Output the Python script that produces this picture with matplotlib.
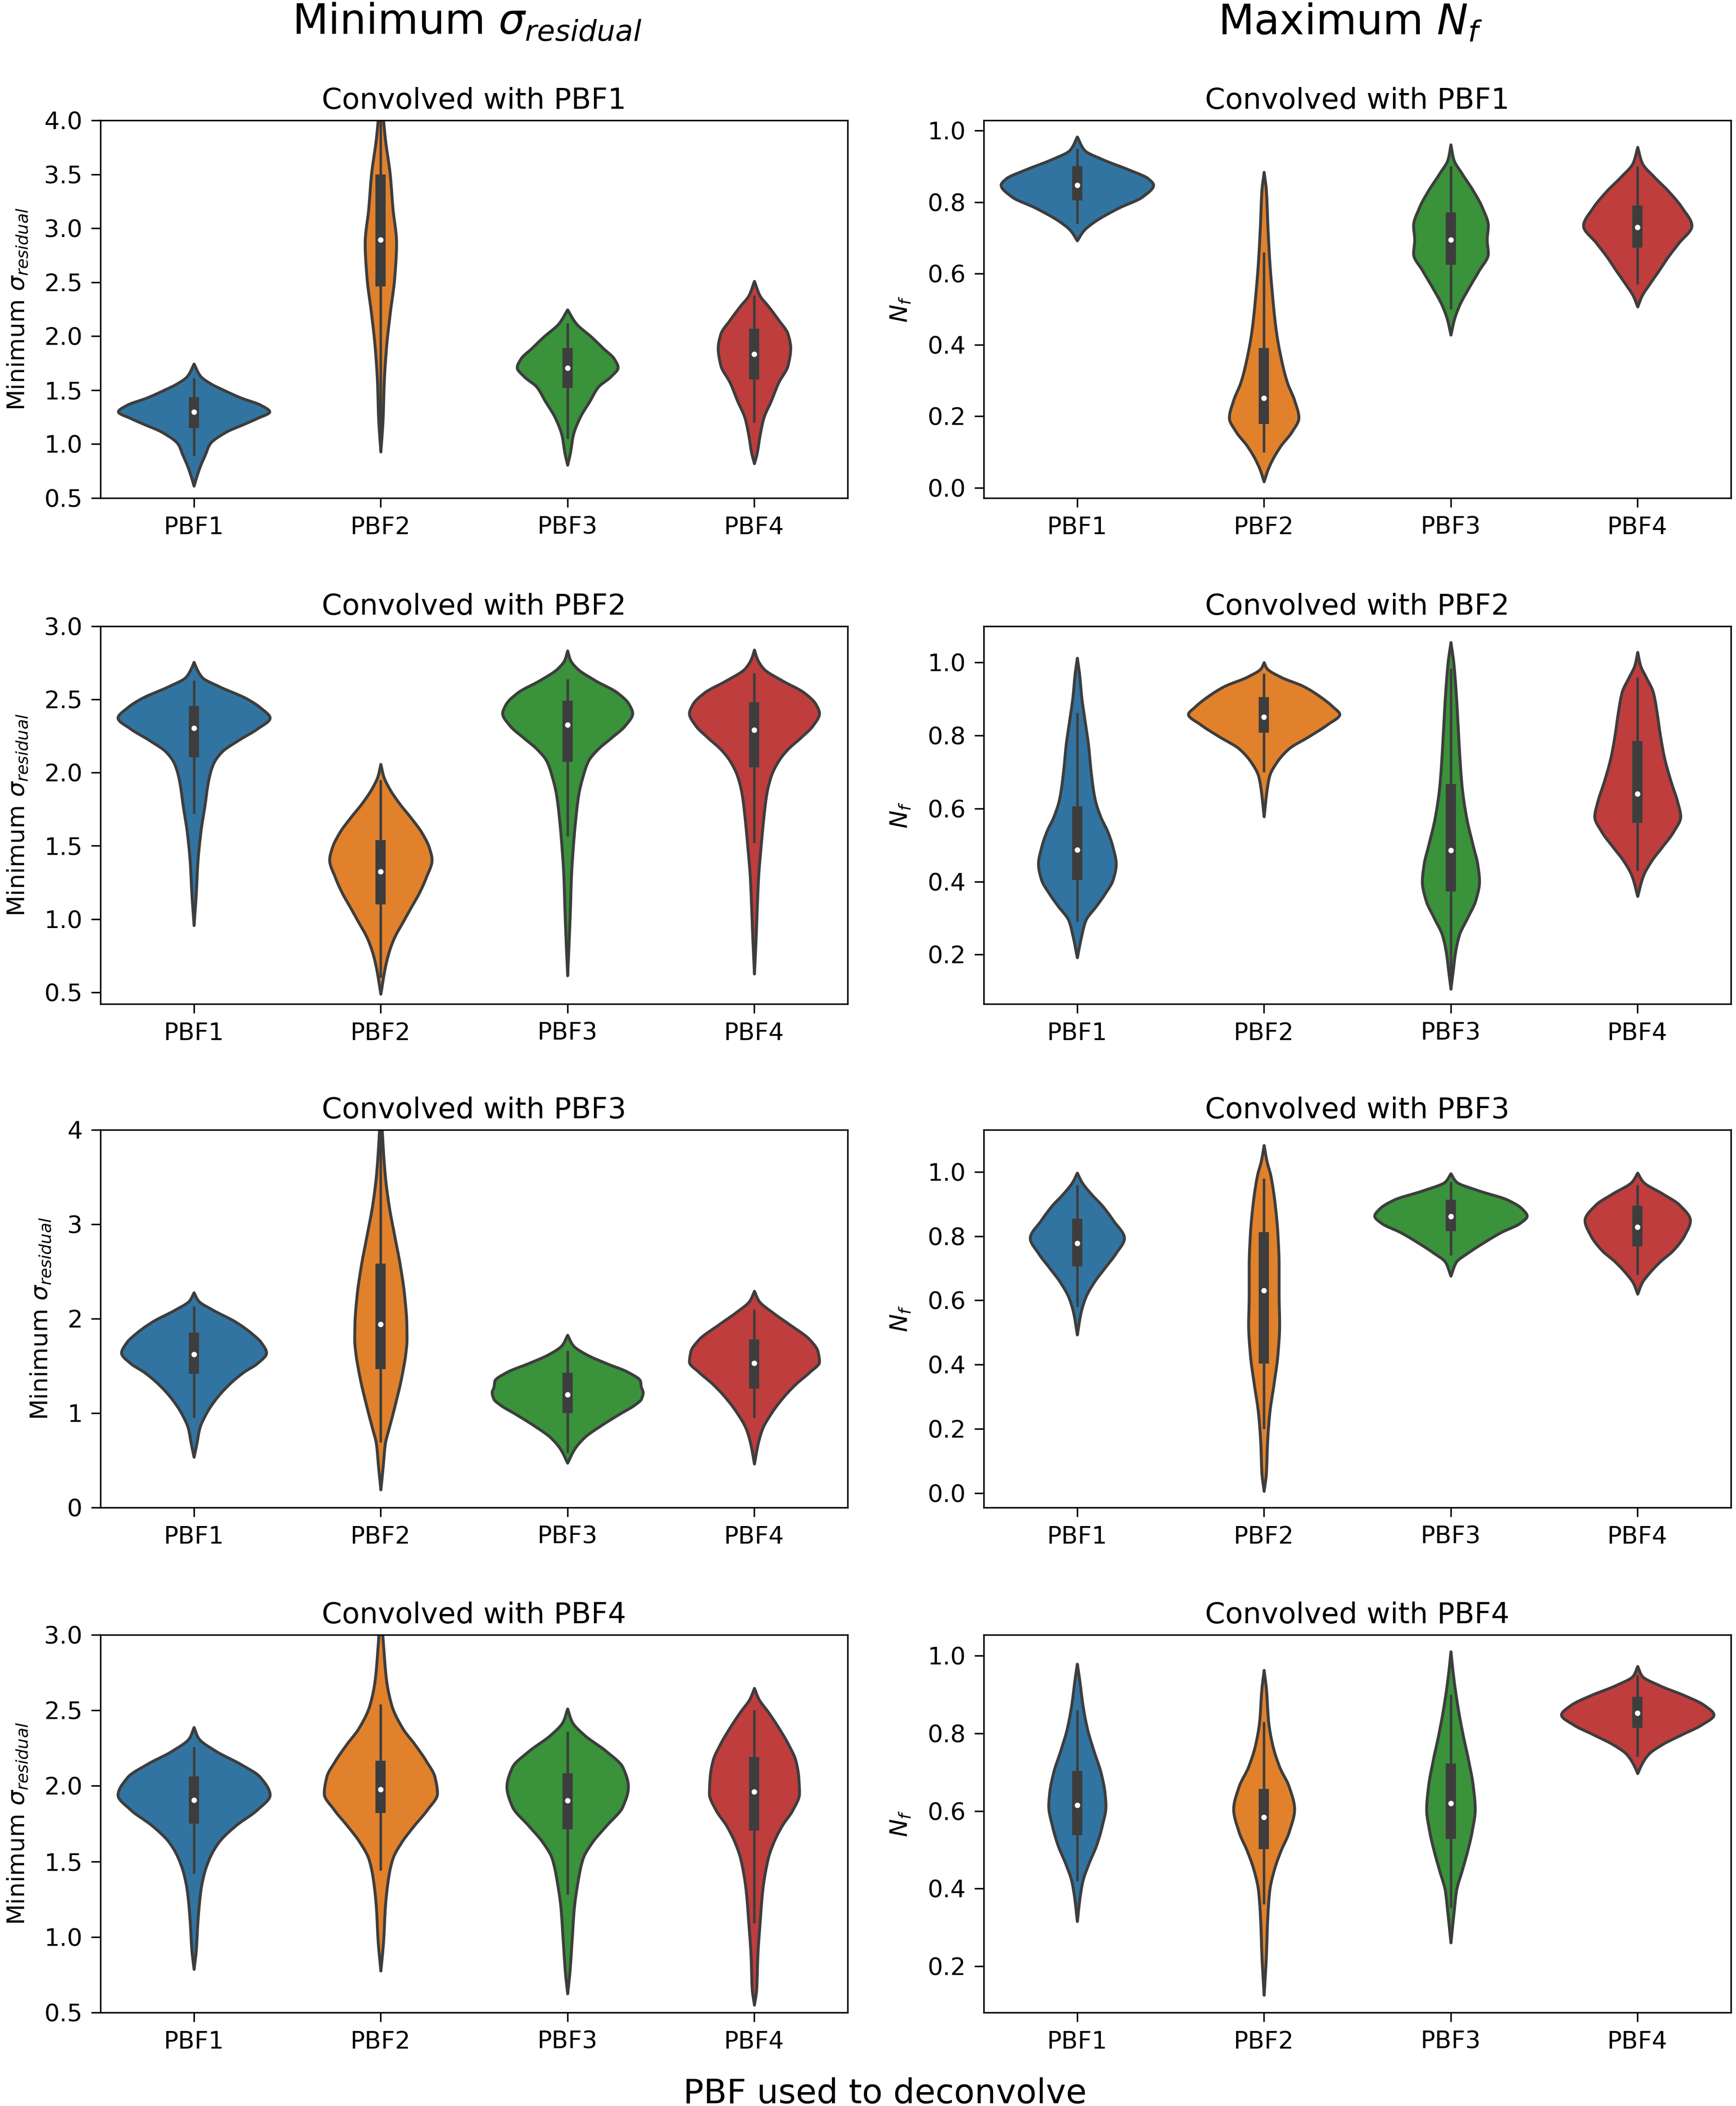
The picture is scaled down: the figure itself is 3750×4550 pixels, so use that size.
import numpy as np
import matplotlib
matplotlib.use("Agg")
import matplotlib.pyplot as plt

# ---------------- data ----------------
CATEGORIES = ["PBF1", "PBF2", "PBF3", "PBF4"]
PANEL_TITLES = ["Convolved with PBF1", "Convolved with PBF2",
                "Convolved with PBF3", "Convolved with PBF4"]
COL_TITLES = ["Minimum $\\sigma_{residual}$", "Maximum $N_f$"]
YLABELS = ["Minimum $\\sigma_{residual}$", "$N_f$"]
XLABEL = "PBF used to deconvolve"
COLORS = ["#3274a1", "#e1812c", "#3a923a", "#c03d3e"]
GRAY = "#3d3d3d"

# y-limits, ticks and tick labels per panel (left column: sigma, right column: N_f)
SIG_YLIMS = [(0.5, 4.0), (0.42, 3.0), (0.0, 4.0), (0.5, 3.0)]
SIG_YTICKS = [[0.5, 1.0, 1.5, 2.0, 2.5, 3.0, 3.5, 4.0],
              [0.5, 1.0, 1.5, 2.0, 2.5, 3.0],
              [0, 1, 2, 3, 4],
              [0.5, 1.0, 1.5, 2.0, 2.5, 3.0]]
SIG_YTICKLABELS = [["0.5", "1.0", "1.5", "2.0", "2.5", "3.0", "3.5", "4.0"],
                   ["0.5", "1.0", "1.5", "2.0", "2.5", "3.0"],
                   ["0", "1", "2", "3", "4"],
                   ["0.5", "1.0", "1.5", "2.0", "2.5", "3.0"]]
NF_YLIMS = [(-0.029, 1.029), (0.065, 1.099), (-0.045, 1.131), (0.081, 1.054)]
NF_YTICKS = [[0.0, 0.2, 0.4, 0.6, 0.8, 1.0],
             [0.2, 0.4, 0.6, 0.8, 1.0],
             [0.0, 0.2, 0.4, 0.6, 0.8, 1.0],
             [0.2, 0.4, 0.6, 0.8, 1.0]]
NF_YTICKLABELS = [["0.0", "0.2", "0.4", "0.6", "0.8", "1.0"],
                  ["0.2", "0.4", "0.6", "0.8", "1.0"],
                  ["0.0", "0.2", "0.4", "0.6", "0.8", "1.0"],
                  ["0.2", "0.4", "0.6", "0.8", "1.0"]]

# Violin outlines: [value, half-width] knots (bottom tip -> top tip)
# Box stats per violin: [whisker low, q1, median, q3, whisker high]

# ---- Minimum sigma_residual, convolved with PBF1 ----
sig1_outline = [
    [[0.612, 0], [0.70, 0.015], [0.80, 0.035], [0.90, 0.06], [1.0, 0.085], [1.11, 0.17],
     [1.19, 0.275], [1.24, 0.34], [1.30, 0.405], [1.36, 0.36], [1.43, 0.25], [1.50, 0.16],
     [1.56, 0.09], [1.63, 0.035], [1.744, 0]],
    [[0.929, 0], [1.24, 0.012], [1.57, 0.018], [1.89, 0.03], [2.21, 0.05], [2.54, 0.074],
     [2.86, 0.084], [3.18, 0.065], [3.5, 0.05], [3.83, 0.024], [4.3, 0]],
    [[0.806, 0], [0.92, 0.015], [1.08, 0.03], [1.24, 0.065], [1.40, 0.12], [1.53, 0.165],
     [1.63, 0.235], [1.71, 0.27], [1.79, 0.25], [1.89, 0.19], [1.99, 0.13], [2.12, 0.045],
     [2.246, 0]],
    [[0.82, 0], [0.92, 0.015], [1.08, 0.03], [1.24, 0.05], [1.40, 0.09], [1.57, 0.13],
     [1.73, 0.18], [1.89, 0.194], [2.02, 0.18], [2.15, 0.13], [2.28, 0.074], [2.375, 0.03],
     [2.51, 0]],
]
sig1_box = [[0.89, 1.146, 1.298, 1.437, 1.61], [0.95, 2.46, 2.893, 3.5, 4.3],
            [1.05, 1.52, 1.705, 1.89, 2.12], [1.2, 1.60, 1.832, 2.07, 2.38]]

# ---- Minimum sigma_residual, convolved with PBF2 ----
sig2_outline = [
    [[0.957, 0], [1.18, 0.012], [1.38, 0.02], [1.59, 0.036], [1.79, 0.06], [1.895, 0.071],
     [1.976, 0.083], [2.06, 0.104], [2.14, 0.148], [2.22, 0.237], [2.30, 0.34], [2.374, 0.407],
     [2.445, 0.355], [2.507, 0.28], [2.59, 0.133], [2.65, 0.045], [2.71, 0.015], [2.755, 0]],
    [[0.488, 0], [0.67, 0.024], [0.773, 0.044], [0.875, 0.074], [0.977, 0.118], [1.08, 0.163],
     [1.18, 0.207], [1.283, 0.243], [1.405, 0.274], [1.486, 0.26], [1.59, 0.22], [1.69, 0.163],
     [1.79, 0.10], [1.895, 0.045], [1.976, 0.015], [2.058, 0]],
    [[0.614, 0], [0.875, 0.009], [1.08, 0.015], [1.283, 0.02], [1.487, 0.03], [1.69, 0.044],
     [1.854, 0.06], [1.976, 0.083], [2.08, 0.112], [2.16, 0.163], [2.24, 0.237], [2.323, 0.31],
     [2.405, 0.348], [2.466, 0.33], [2.547, 0.266], [2.63, 0.148], [2.71, 0.053], [2.77, 0.015],
     [2.833, 0]],
    [[0.626, 0], [0.875, 0.009], [1.08, 0.015], [1.283, 0.022], [1.487, 0.035], [1.69, 0.05],
     [1.854, 0.066], [1.976, 0.09], [2.08, 0.13], [2.16, 0.18], [2.24, 0.25], [2.323, 0.315],
     [2.405, 0.348], [2.466, 0.33], [2.547, 0.266], [2.63, 0.148], [2.71, 0.05], [2.78, 0.015],
     [2.839, 0]],
]
sig2_box = [[1.72, 2.105, 2.303, 2.456, 2.63], [0.6, 1.10, 1.324, 1.538, 1.95],
            [1.564, 2.074, 2.327, 2.49, 2.64], [1.52, 2.037, 2.292, 2.48, 2.68]]

# ---- Minimum sigma_residual, convolved with PBF3 ----
sig3_outline = [
    [[0.535, 0], [0.677, 0.015], [0.835, 0.03], [0.992, 0.065], [1.15, 0.118], [1.307, 0.19],
     [1.433, 0.266], [1.528, 0.34], [1.638, 0.388], [1.748, 0.36], [1.843, 0.31], [1.97, 0.22],
     [2.094, 0.10], [2.19, 0.024], [2.277, 0]],
    [[0.189, 0], [0.425, 0.012], [0.677, 0.024], [0.835, 0.044], [0.992, 0.065], [1.15, 0.085],
     [1.307, 0.104], [1.465, 0.12], [1.622, 0.133], [1.78, 0.14], [1.937, 0.139], [2.25, 0.127],
     [2.567, 0.104], [2.88, 0.074], [3.2, 0.044], [3.51, 0.024], [3.83, 0.012], [4.3, 0]],
    [[0.472, 0], [0.614, 0.036], [0.74, 0.09], [0.866, 0.178], [0.992, 0.28], [1.087, 0.36],
     [1.15, 0.395], [1.22, 0.404], [1.28, 0.394], [1.339, 0.39], [1.433, 0.325], [1.528, 0.207],
     [1.622, 0.10], [1.717, 0.03], [1.827, 0]],
    [[0.463, 0], [0.677, 0.02], [0.835, 0.044], [0.992, 0.089], [1.15, 0.148], [1.307, 0.222],
     [1.433, 0.296], [1.543, 0.348], [1.654, 0.34], [1.78, 0.296], [1.937, 0.19], [2.063, 0.10],
     [2.19, 0.024], [2.293, 0]],
]
sig3_box = [[0.95, 1.417, 1.622, 1.852, 2.13], [0.693, 1.465, 1.943, 2.583, 4.3],
            [0.58, 0.998, 1.197, 1.427, 1.66], [0.95, 1.26, 1.528, 1.78, 2.1]]

# ---- Minimum sigma_residual, convolved with PBF4 ----
sig4_outline = [
    [[0.787, 0], [0.916, 0.012], [1.09, 0.02], [1.304, 0.036], [1.412, 0.053], [1.52, 0.083],
     [1.627, 0.133], [1.735, 0.222], [1.843, 0.34], [1.94, 0.407], [2.058, 0.355], [2.144, 0.25],
     [2.23, 0.118], [2.317, 0.024], [2.388, 0]],
    [[0.776, 0], [0.98, 0.015], [1.196, 0.024], [1.412, 0.044], [1.52, 0.065], [1.627, 0.112],
     [1.735, 0.178], [1.843, 0.25], [1.95, 0.303], [2.058, 0.29], [2.166, 0.243], [2.274, 0.183],
     [2.38, 0.118], [2.532, 0.059], [2.705, 0.03], [2.92, 0.015], [3.2, 0]],
    [[0.625, 0], [0.765, 0.012], [0.98, 0.024], [1.196, 0.036], [1.347, 0.053], [1.52, 0.083],
     [1.627, 0.133], [1.735, 0.207], [1.864, 0.296], [1.994, 0.325], [2.123, 0.296],
     [2.23, 0.207], [2.338, 0.089], [2.425, 0.024], [2.511, 0]],
    [[0.55, 0], [0.657, 0.012], [0.874, 0.018], [1.09, 0.03], [1.304, 0.044], [1.52, 0.074],
     [1.627, 0.104], [1.735, 0.148], [1.843, 0.207], [1.95, 0.241], [2.058, 0.237],
     [2.166, 0.222], [2.274, 0.183], [2.38, 0.133], [2.49, 0.074], [2.575, 0.024], [2.647, 0]],
]
sig4_box = [[1.42, 1.75, 1.907, 2.063, 2.26], [1.44, 1.821, 1.976, 2.166, 2.54],
            [1.28, 1.713, 1.903, 2.084, 2.36], [1.09, 1.703, 1.961, 2.192, 2.5]]

# ---- Maximum N_f, convolved with PBF1 ----
nf1_outline = [
    [[0.692, 0], [0.72, 0.035], [0.744, 0.09], [0.783, 0.22], [0.815, 0.35], [0.848, 0.408],
     [0.866, 0.38], [0.89, 0.28], [0.92, 0.134], [0.945, 0.04], [0.983, 0]],
    [[0.017, 0], [0.049, 0.02], [0.078, 0.045], [0.117, 0.09], [0.157, 0.15], [0.196, 0.186],
     [0.245, 0.163], [0.294, 0.125], [0.342, 0.10], [0.44, 0.065], [0.538, 0.045],
     [0.636, 0.03], [0.734, 0.02], [0.832, 0.012], [0.884, 0]],
    [[0.428, 0], [0.47, 0.018], [0.509, 0.045], [0.558, 0.095], [0.607, 0.15], [0.656, 0.2],
     [0.695, 0.194], [0.734, 0.2], [0.783, 0.17], [0.832, 0.12], [0.88, 0.06], [0.92, 0.015],
     [0.961, 0]],
    [[0.507, 0], [0.538, 0.024], [0.567, 0.06], [0.607, 0.113], [0.646, 0.163], [0.685, 0.22],
     [0.734, 0.29], [0.783, 0.24], [0.832, 0.163], [0.87, 0.09], [0.91, 0.024], [0.954, 0]],
]
nf1_box = [[0.74, 0.805, 0.848, 0.90, 0.95], [0.10, 0.178, 0.251, 0.391, 0.66],
           [0.50, 0.624, 0.695, 0.771, 0.90], [0.57, 0.672, 0.729, 0.79, 0.90]]

# ---- Maximum N_f, convolved with PBF2 ----
nf2_outline = [
    [[0.192, 0], [0.253, 0.024], [0.293, 0.045], [0.334, 0.104], [0.366, 0.148], [0.407, 0.193],
     [0.448, 0.208], [0.496, 0.19], [0.537, 0.163], [0.578, 0.125], [0.626, 0.095], [0.70, 0.074],
     [0.773, 0.06], [0.838, 0.042], [0.903, 0.024], [0.968, 0.012], [1.012, 0]],
    [[0.578, 0], [0.659, 0.018], [0.69, 0.03], [0.724, 0.065], [0.764, 0.134], [0.797, 0.24],
     [0.83, 0.34], [0.858, 0.405], [0.878, 0.37], [0.903, 0.31], [0.935, 0.21], [0.96, 0.09],
     [0.984, 0.015], [1.0, 0]],
    [[0.106, 0], [0.155, 0.012], [0.204, 0.024], [0.253, 0.045], [0.301, 0.09], [0.35, 0.134],
     [0.40, 0.153], [0.449, 0.143], [0.497, 0.12], [0.578, 0.083], [0.659, 0.06], [0.74, 0.048],
     [0.821, 0.039], [0.903, 0.03], [1.0, 0.015], [1.055, 0]],
    [[0.36, 0], [0.415, 0.03], [0.456, 0.074], [0.496, 0.134], [0.537, 0.193], [0.578, 0.23],
     [0.618, 0.214], [0.675, 0.178], [0.74, 0.143], [0.805, 0.12], [0.862, 0.104],
     [0.919, 0.083], [0.96, 0.045], [0.992, 0.015], [1.028, 0]],
]
nf2_box = [[0.29, 0.405, 0.487, 0.606, 0.862], [0.70, 0.807, 0.851, 0.905, 0.97],
           [0.12, 0.373, 0.486, 0.667, 0.984], [0.43, 0.561, 0.64, 0.785, 0.96]]

# ---- Maximum N_f, convolved with PBF3 ----
nf3_outline = [
    [[0.493, 0], [0.562, 0.02], [0.609, 0.045], [0.655, 0.089], [0.701, 0.148], [0.747, 0.208],
     [0.794, 0.252], [0.849, 0.193], [0.895, 0.134], [0.932, 0.074], [0.969, 0.024], [0.997, 0]],
    [[0.006, 0], [0.063, 0.012], [0.155, 0.018], [0.248, 0.03], [0.34, 0.053], [0.433, 0.074],
     [0.525, 0.083], [0.618, 0.08], [0.71, 0.08], [0.803, 0.074], [0.895, 0.06], [0.988, 0.036],
     [1.034, 0.015], [1.083, 0]],
    [[0.676, 0], [0.72, 0.03], [0.747, 0.09], [0.775, 0.163], [0.812, 0.27], [0.84, 0.37],
     [0.863, 0.408], [0.886, 0.38], [0.914, 0.30], [0.942, 0.148], [0.969, 0.03], [0.995, 0]],
    [[0.62, 0], [0.655, 0.024], [0.683, 0.06], [0.72, 0.12], [0.757, 0.193], [0.803, 0.252],
     [0.849, 0.282], [0.898, 0.223], [0.932, 0.134], [0.969, 0.03], [0.997, 0]],
]
nf3_box = [[0.58, 0.706, 0.778, 0.854, 0.96], [0.20, 0.403, 0.631, 0.812, 0.98],
           [0.74, 0.815, 0.861, 0.914, 0.97], [0.68, 0.768, 0.829, 0.895, 0.96]]

# ---- Maximum N_f, convolved with PBF4 ----
nf4_outline = [
    [[0.316, 0], [0.379, 0.015], [0.42, 0.03], [0.462, 0.06], [0.513, 0.104], [0.563, 0.134],
     [0.613, 0.153], [0.647, 0.148], [0.697, 0.128], [0.755, 0.089], [0.814, 0.053],
     [0.873, 0.03], [0.94, 0.012], [0.979, 0]],
    [[0.126, 0], [0.228, 0.012], [0.312, 0.018], [0.395, 0.03], [0.446, 0.053], [0.496, 0.089],
     [0.546, 0.134], [0.605, 0.163], [0.663, 0.134], [0.714, 0.083], [0.772, 0.045],
     [0.831, 0.024], [0.915, 0.012], [0.963, 0]],
    [[0.261, 0], [0.345, 0.018], [0.395, 0.03], [0.446, 0.06], [0.496, 0.089], [0.546, 0.113],
     [0.605, 0.13], [0.663, 0.12], [0.73, 0.095], [0.797, 0.065], [0.873, 0.036],
     [0.956, 0.012], [1.011, 0]],
    [[0.697, 0], [0.722, 0.024], [0.747, 0.06], [0.772, 0.134], [0.797, 0.237], [0.822, 0.342],
     [0.848, 0.408], [0.873, 0.356], [0.898, 0.25], [0.923, 0.12], [0.948, 0.024], [0.973, 0]],
]
nf4_box = [[0.42, 0.538, 0.615, 0.703, 0.86], [0.36, 0.502, 0.584, 0.657, 0.83],
           [0.35, 0.528, 0.62, 0.722, 0.90], [0.74, 0.814, 0.852, 0.894, 0.95]]

SIG_OUTLINES = [sig1_outline, sig2_outline, sig3_outline, sig4_outline]
SIG_BOXES = [sig1_box, sig2_box, sig3_box, sig4_box]
NF_OUTLINES = [nf1_outline, nf2_outline, nf3_outline, nf4_outline]
NF_BOXES = [nf1_box, nf2_box, nf3_box, nf4_box]


# ---------------- drawing helpers ----------------
def smooth_outline(x, y, xn):
    """Monotone cubic (PCHIP) curve through the read knots, for a smooth outline."""
    x = np.asarray(x, float)
    y = np.asarray(y, float)
    h = np.diff(x)
    d = np.diff(y) / h
    m = np.zeros_like(y)
    for k in range(1, len(x) - 1):
        if d[k - 1] * d[k] > 0:
            w1 = 2 * h[k] + h[k - 1]
            w2 = h[k] + 2 * h[k - 1]
            m[k] = (w1 + w2) / (w1 / d[k - 1] + w2 / d[k])
    m[0] = d[0]
    m[-1] = d[-1]
    idx = np.clip(np.searchsorted(x, xn) - 1, 0, len(h) - 1)
    t = (xn - x[idx]) / h[idx]
    h00 = 2 * t**3 - 3 * t**2 + 1
    h10 = t**3 - 2 * t**2 + t
    h01 = -2 * t**3 + 3 * t**2
    h11 = t**3 - t**2
    out = h00 * y[idx] + h10 * h[idx] * m[idx] + h01 * y[idx + 1] + h11 * h[idx] * m[idx + 1]
    return np.clip(out, 0, None)


def draw_panel(ax, outlines, boxes):
    for i, (kn, bx) in enumerate(zip(outlines, boxes)):
        ky = np.array([k[0] for k in kn])
        kw = np.array([k[1] for k in kn])
        yy = np.linspace(ky[0], ky[-1], 500)
        ww = smooth_outline(ky, kw, yy)
        stats = [dict(coords=yy, vals=ww, mean=bx[2], median=bx[2],
                      min=ky[0], max=ky[-1], quantiles=[])]
        parts = ax.violin(stats, positions=[i], widths=[2 * ww.max()],
                          showextrema=False, showmeans=False, showmedians=False)
        for b in parts["bodies"]:
            b.set_facecolor(COLORS[i])
            b.set_edgecolor(GRAY)
            b.set_linewidth(1.5)
            b.set_alpha(1)
        wlo, q1, med, q3, whi = bx
        ax.plot([i, i], [wlo, whi], color=GRAY, lw=1.3, solid_capstyle="butt", zorder=2)
        ax.plot([i, i], [q1, q3], color=GRAY, lw=5.3, solid_capstyle="butt", zorder=2)
        ax.scatter([i], [med], s=14, color="white", edgecolor=GRAY, linewidth=0.9, zorder=3)


def style_axes(ax, ylim, yticks, yticklabels, title, ylabel):
    ax.set_xlim(-0.5, 3.5)
    ax.set_xticks(range(len(CATEGORIES)))
    ax.set_xticklabels(CATEGORIES)
    ax.set_ylim(*ylim)
    ax.set_yticks(yticks)
    ax.set_yticklabels(yticklabels)
    ax.tick_params(axis="both", length=4.8, width=0.8, pad=4.5, labelsize=12.5)
    ax.set_title(title, fontsize=15, pad=6)
    ax.set_ylabel(ylabel, fontsize=12.5, labelpad=7.5)
    for sp in ax.spines.values():
        sp.set_linewidth(0.8)


# ---------------- figure ----------------
W, H = 3750, 4550
fig = plt.figure(figsize=(W / 300, H / 300), dpi=300)

LEFT_X = (217, 1831)
RIGHT_X = (2125, 3739)
ROW_BOTTOMS = [1076, 2169, 3257, 4348]
AX_H = 816

for r in range(4):
    b = (H - ROW_BOTTOMS[r]) / H
    axl = fig.add_axes([LEFT_X[0] / W, b, (LEFT_X[1] - LEFT_X[0]) / W, AX_H / H])
    axr = fig.add_axes([RIGHT_X[0] / W, b, (RIGHT_X[1] - RIGHT_X[0]) / W, AX_H / H])
    draw_panel(axl, SIG_OUTLINES[r], SIG_BOXES[r])
    draw_panel(axr, NF_OUTLINES[r], NF_BOXES[r])
    style_axes(axl, SIG_YLIMS[r], SIG_YTICKS[r], SIG_YTICKLABELS[r], PANEL_TITLES[r], YLABELS[0])
    style_axes(axr, NF_YLIMS[r], NF_YTICKS[r], NF_YTICKLABELS[r], PANEL_TITLES[r], YLABELS[1])

fig.text((LEFT_X[0] + LEFT_X[1]) / 2 / W - 0.004, 1 - 74 / H, COL_TITLES[0],
         ha="center", va="baseline", fontsize=21.6)
fig.text((RIGHT_X[0] + RIGHT_X[1]) / 2 / W - 0.004, 1 - 74 / H, COL_TITLES[1],
         ha="center", va="baseline", fontsize=21.6)
fig.text(0.5099, 6 / H, XLABEL, ha="center", va="baseline", fontsize=17.5)

fig.savefig("out.png", dpi=300)
